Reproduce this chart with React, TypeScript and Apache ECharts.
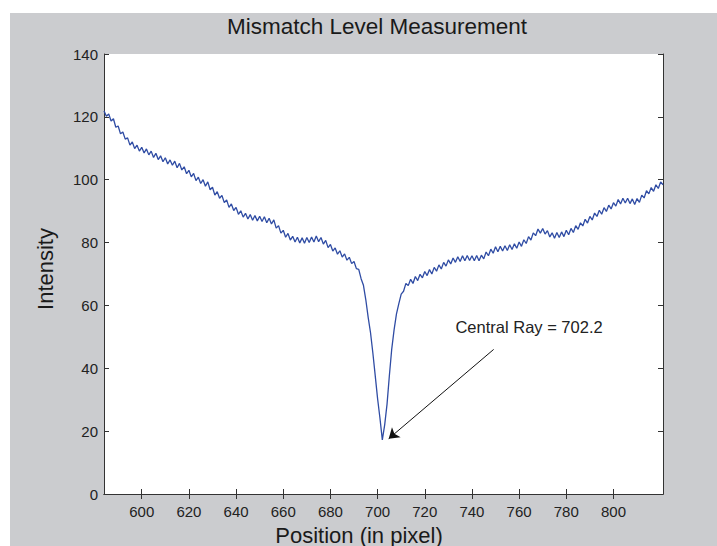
import React, { useEffect, useRef } from "react";
import * as echarts from "echarts";

// Positions (pixel index) 584..821, one intensity value per position
const positionStart = 584;
const intensity: number[] = [
  121.9, 120.2, 120.9, 118.7, 119.4, 116.7, 117.1, 114.6, 115.2, 112.9,
  113.3, 111.0, 112.0, 109.9, 111.0, 109.1, 110.3, 108.5, 109.8, 107.9,
  109.1, 107.1, 108.4, 106.4, 107.6, 105.7, 107.0, 105.0, 106.3, 104.6,
  105.9, 103.8, 105.2, 103.1, 104.1, 101.9, 103.0, 100.9, 102.0, 99.7,
  100.8, 98.8, 100.0, 97.9, 99.3, 96.8, 97.6, 95.1, 96.2, 94.1,
  95.0, 92.7, 93.6, 91.2, 92.3, 90.2, 91.2, 89.0, 90.1, 88.1,
  89.3, 87.5, 88.9, 87.1, 88.6, 86.9, 88.4, 86.7, 88.2, 86.3,
  87.7, 85.9, 87.2, 84.6, 85.4, 83.0, 83.9, 81.7, 82.9, 80.8,
  82.0, 80.2, 81.7, 79.9, 81.5, 79.8, 81.6, 80.0, 81.8, 80.2,
  82.1, 80.3, 81.6, 79.5, 80.7, 78.4, 79.4, 77.3, 78.3, 76.3,
  77.4, 75.4, 76.4, 74.4, 75.3, 73.3, 74.0, 71.7, 71.5, 68.5,
  66.4, 61.8, 56.2, 51.3, 44.8, 37.6, 30.3, 24.1, 17.2, 22.0,
  28.6, 37.8, 46.2, 52.3, 57.3, 60.6, 63.6, 64.5, 67.0, 66.3,
  68.3, 67.0, 69.2, 67.9, 69.9, 68.8, 70.8, 69.5, 71.4, 70.0,
  72.1, 70.9, 72.9, 71.6, 73.7, 72.5, 74.5, 73.2, 75.1, 73.7,
  75.5, 74.0, 75.8, 74.2, 75.9, 74.3, 75.8, 74.2, 75.9, 74.2,
  76.0, 74.8, 77.0, 75.8, 77.9, 76.6, 78.7, 77.1, 78.8, 77.3,
  79.0, 77.5, 79.3, 77.8, 79.6, 78.2, 80.2, 78.8, 80.9, 79.7,
  81.9, 80.8, 83.1, 82.2, 84.3, 83.0, 84.5, 82.7, 83.8, 81.8,
  83.1, 81.4, 83.2, 81.6, 83.4, 81.9, 83.9, 82.5, 84.5, 83.2,
  85.4, 84.2, 86.3, 85.3, 87.4, 86.2, 88.3, 87.2, 89.4, 88.3,
  90.3, 89.0, 91.1, 89.9, 91.9, 90.7, 92.7, 91.6, 93.7, 92.3,
  94.1, 92.6, 94.1, 92.4, 93.9, 92.1, 94.0, 92.8, 95.1, 94.2,
  96.5, 95.5, 97.5, 96.3, 98.4, 97.2, 99.3, 98.4,
];

const xTicks = [600, 620, 640, 660, 680, 700, 720, 740, 760, 780, 800];
const yTicks = [0, 20, 40, 60, 80, 100, 120, 140];
const xRange = [584, 821];
const yRange = [0, 140];

const CENTRAL_RAY = 702.2;
const labelAnchor = [733, 53];
const arrowTail = [749.2, 46.0];
const arrowTip = [704.7, 17.6];

const TITLE = "Mismatch Level Measurement";
const X_NAME = "Position (in pixel)";
const Y_NAME = "Intensity";

const FONT = "'Liberation Sans', Arial, Helvetica, sans-serif";

export default function App() {
  const ref = useRef<HTMLDivElement>(null);

  useEffect(() => {
    if (!ref.current) return;
    const chart = echarts.init(ref.current, null, { renderer: "svg" });
    const data = intensity.map((v, i) => [positionStart + i, v]);

    const axisLine = { show: true, lineStyle: { color: "#333", width: 1 } };
    const tickStyle = { lineStyle: { color: "#333", width: 1 } };

    chart.setOption({
      animation: false,
      title: {
        text: TITLE,
        left: 377,
        top: 15,
        textAlign: "center",
        padding: 0,
        textStyle: { fontFamily: FONT, fontSize: 22.5, fontWeight: "normal", color: "#1a1a1a" },
      },
      grid: {
        left: 104,
        top: 54,
        right: 54,
        bottom: 52,
        show: true,
        backgroundColor: "#ffffff",
        borderWidth: 0,
        containLabel: false,
        outerBoundsMode: "none",
      },
      xAxis: [
        {
          type: "value",
          position: "bottom",
          min: xRange[0],
          max: xRange[1],
          axisLine,
          axisTick: { show: true, inside: true, length: 5, customValues: xTicks, ...tickStyle },
          axisLabel: {
            show: true,
            customValues: xTicks,
            margin: 10,
            color: "#222",
            fontSize: 15,
            fontFamily: FONT,
          },
          splitLine: { show: false },
          name: X_NAME,
          nameLocation: "middle",
          nameGap: 30,
          nameTextStyle: {
            fontFamily: FONT,
            fontSize: 22,
            color: "#1a1a1a",
            padding: [0, 49, 0, 0],
          },
        },
        {
          type: "value",
          position: "top",
          min: xRange[0],
          max: xRange[1],
          axisLine,
          axisTick: { show: true, inside: true, length: 5, customValues: xTicks, ...tickStyle },
          axisLabel: { show: false },
          splitLine: { show: false },
        },
      ],
      yAxis: [
        {
          type: "value",
          position: "left",
          min: yRange[0],
          max: yRange[1],
          interval: 20,
          axisLine,
          axisTick: { show: true, inside: true, length: 5, customValues: yTicks, ...tickStyle },
          axisLabel: {
            show: true,
            customValues: yTicks,
            margin: 6,
            color: "#222",
            fontSize: 15,
            fontFamily: FONT,
          },
          splitLine: { show: false },
          name: Y_NAME,
          nameLocation: "middle",
          nameGap: 48,
          nameRotate: 90,
          nameTextStyle: { fontFamily: FONT, fontSize: 22, color: "#1a1a1a", padding: [0, 0, 0, 10] },
        },
        {
          type: "value",
          position: "right",
          min: yRange[0],
          max: yRange[1],
          interval: 20,
          axisLine,
          axisTick: { show: true, inside: true, length: 5, customValues: yTicks, ...tickStyle },
          axisLabel: { show: false },
          splitLine: { show: false },
        },
      ],
      series: [
        {
          type: "line",
          xAxisIndex: 0,
          yAxisIndex: 0,
          data,
          showSymbol: false,
          symbol: "none",
          lineStyle: { color: "#2f4ca4", width: 1.3 },
          silent: true,
          markLine: {
            silent: true,
            symbol: ["none", "arrow"],
            symbolSize: 10,
            label: { show: false },
            lineStyle: { color: "#111", width: 1, type: "solid" },
            data: [[{ coord: arrowTail }, { coord: arrowTip }]],
          },
          markPoint: {
            silent: true,
            symbol: "circle",
            symbolSize: 0,
            data: [
              {
                coord: labelAnchor,
                label: {
                  show: true,
                  position: "right",
                  distance: 0,
                  formatter: `Central Ray = ${CENTRAL_RAY}`,
                  color: "#222",
                  fontSize: 16.5,
                  fontFamily: FONT,
                },
              },
            ],
          },
        },
      ],
    });

    return () => chart.dispose();
  }, []);

  return (
    <div style={{ position: "fixed", left: 0, top: 0, width: 717, height: 546, background: "#ffffff" }}>
      <div style={{ position: "absolute", left: 10, top: 13, right: 0, bottom: 0, background: "#cbcccf" }} />
      <div ref={ref} style={{ position: "absolute", left: 0, top: 0, width: 717, height: 546 }} />
    </div>
  );
}
